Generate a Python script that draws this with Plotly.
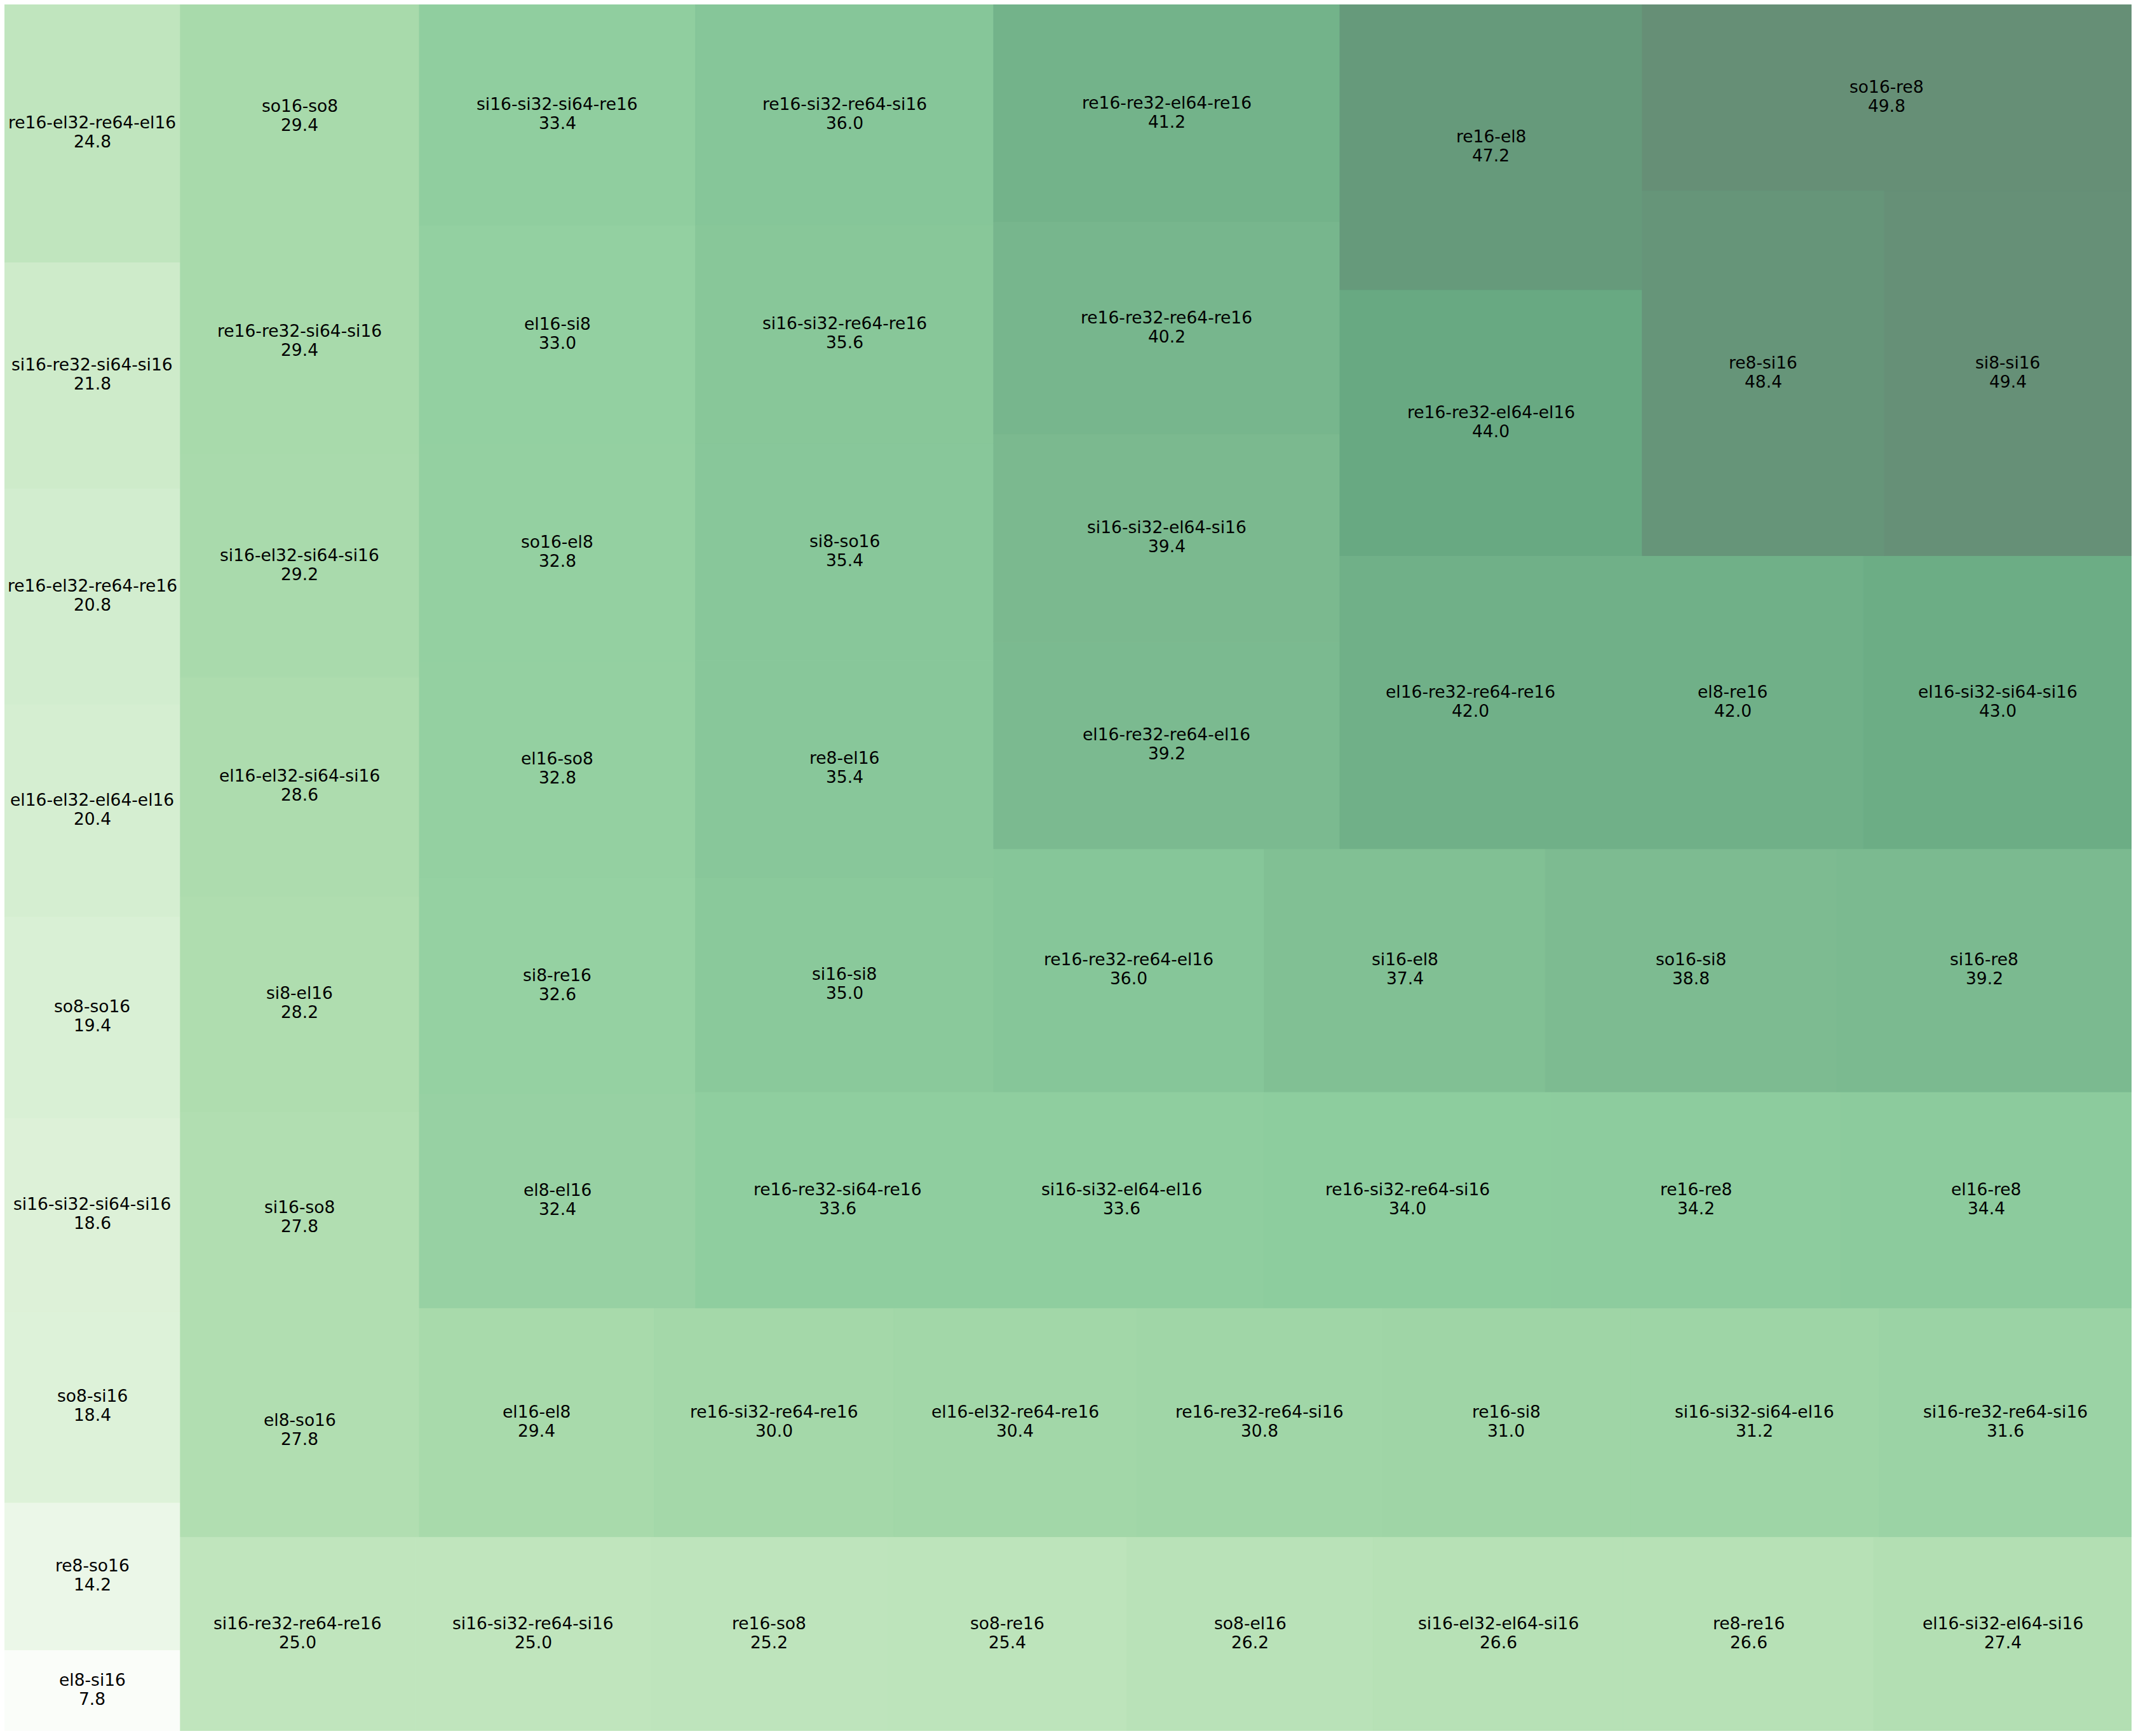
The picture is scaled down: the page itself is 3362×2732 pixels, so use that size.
import plotly.graph_objects as go

# ---- data (ascending order, as laid out) ----
labels = [
    "el8-si16", "re8-so16", "so8-si16", "si16-si32-si64-si16", "so8-so16",
    "el16-el32-el64-el16", "re16-el32-re64-re16", "si16-re32-si64-si16", "re16-el32-re64-el16",
    "si16-re32-re64-re16", "si16-si32-re64-si16", "re16-so8", "so8-re16", "so8-el16",
    "si16-el32-el64-si16", "re8-re16", "el16-si32-el64-si16",
    "el8-so16", "si16-so8", "si8-el16", "el16-el32-si64-si16", "si16-el32-si64-si16",
    "re16-re32-si64-si16", "so16-so8",
    "el16-el8", "re16-si32-re64-re16", "el16-el32-re64-re16", "re16-re32-re64-si16",
    "re16-si8", "si16-si32-si64-el16", "si16-re32-re64-si16",
    "el8-el16", "si8-re16", "el16-so8", "so16-el8", "el16-si8", "si16-si32-si64-re16",
    "re16-re32-si64-re16", "si16-si32-el64-el16", "re16-si32-re64-si16", "re16-re8", "el16-re8",
    "si16-si8", "re8-el16", "si8-so16", "si16-si32-re64-re16", "re16-si32-re64-si16",
    "re16-re32-re64-el16", "si16-el8", "so16-si8", "si16-re8",
    "el16-re32-re64-el16", "si16-si32-el64-si16", "re16-re32-re64-re16", "re16-re32-el64-re16",
    "el16-re32-re64-re16", "el8-re16", "el16-si32-si64-si16",
    "re16-re32-el64-el16", "re16-el8",
    "re8-si16", "si8-si16",
    "so16-re8",
]
values = [
    7.8, 14.2, 18.4, 18.6, 19.4, 20.4, 20.8, 21.8, 24.8,
    25.0, 25.0, 25.2, 25.4, 26.2, 26.6, 26.6, 27.4,
    27.8, 27.8, 28.2, 28.6, 29.2, 29.4, 29.4,
    29.4, 30.0, 30.4, 30.8, 31.0, 31.2, 31.6,
    32.4, 32.6, 32.8, 32.8, 33.0, 33.4,
    33.6, 33.6, 34.0, 34.2, 34.4,
    35.0, 35.4, 35.4, 35.6, 36.0,
    36.0, 37.4, 38.8, 39.2,
    39.2, 39.4, 40.2, 41.2,
    42.0, 42.0, 43.0,
    44.0, 47.2,
    48.4, 49.4,
    49.8,
]

# ---- squarify layout (same algorithm as the python "squarify" package) ----
def normalize_sizes(sizes, dx, dy):
    total = sum(sizes)
    return [s * dx * dy / total for s in sizes]

def layoutrow(sizes, x, y, dx, dy):
    width = sum(sizes) / dy
    rects = []
    for s in sizes:
        rects.append((x, y, width, s / width))
        y += s / width
    return rects

def layoutcol(sizes, x, y, dx, dy):
    height = sum(sizes) / dx
    rects = []
    for s in sizes:
        rects.append((x, y, s / height, height))
        x += s / height
    return rects

def layout(sizes, x, y, dx, dy):
    return layoutrow(sizes, x, y, dx, dy) if dx >= dy else layoutcol(sizes, x, y, dx, dy)

def leftover(sizes, x, y, dx, dy):
    if dx >= dy:
        w = sum(sizes) / dy
        return (x + w, y, dx - w, dy)
    h = sum(sizes) / dx
    return (x, y + h, dx, dy - h)

def worst_ratio(sizes, x, y, dx, dy):
    return max(max(r[2] / r[3], r[3] / r[2]) for r in layout(sizes, x, y, dx, dy))

def squarify(sizes, x, y, dx, dy):
    sizes = [float(s) for s in sizes]
    if not sizes:
        return []
    if len(sizes) == 1:
        return layout(sizes, x, y, dx, dy)
    i = 1
    while i < len(sizes) and worst_ratio(sizes[:i], x, y, dx, dy) >= worst_ratio(sizes[:i + 1], x, y, dx, dy):
        i += 1
    cur, rem = sizes[:i], sizes[i:]
    lx, ly, ldx, ldy = leftover(cur, x, y, dx, dy)
    return layout(cur, x, y, dx, dy) + squarify(rem, lx, ly, ldx, ldy)

NX, NY = 100.0, 100.0
rects = squarify(normalize_sizes(values, NX, NY), 0, 0, NX, NY)

# ---- Greens colormap (256-entry LUT) with alpha 0.6 over white ----
greens = [
    (0.96862745098039216, 0.9882352941176471, 0.96078431372549022),
    (0.89803921568627454, 0.96078431372549022, 0.8784313725490196),
    (0.7803921568627451, 0.9137254901960784, 0.75294117647058822),
    (0.63137254901960782, 0.85098039215686272, 0.60784313725490191),
    (0.45490196078431372, 0.7686274509803922, 0.46274509803921571),
    (0.25490196078431371, 0.6705882352941176, 0.36470588235294116),
    (0.13725490196078433, 0.54509803921568623, 0.27058823529411763),
    (0.0, 0.42745098039215684, 0.17254901960784313),
    (0.0, 0.26666666666666666, 0.10588235294117647),
]

def greens_at(t):
    n = len(greens) - 1
    p = t * n
    i = min(int(p), n - 1)
    f = p - i
    return tuple(greens[i][k] + (greens[i + 1][k] - greens[i][k]) * f for k in range(3))

def cmap(v, vmin, vmax, alpha=0.6):
    t = (v - vmin) / (vmax - vmin)
    idx = min(max(int(t * 256), 0), 255)
    c = greens_at(idx / 255.0)
    rgb = [round(255 * (alpha * ck + (1 - alpha))) for ck in c]
    return "rgb(%d,%d,%d)" % tuple(rgb)

vmin, vmax = min(values), max(values)

fig = go.Figure()
annotations = []
for (x, y, dx, dy), lab, val in zip(rects, labels, values):
    col = cmap(val, vmin, vmax)
    fig.add_trace(go.Scatter(
        x=[x, x + dx, x + dx, x, x], y=[y, y, y + dy, y + dy, y],
        mode="lines", fill="toself", fillcolor=col,
        line=dict(width=1, color=col), hoverinfo="skip", showlegend=False,
    ))
    cx, cy = x + dx / 2, y + dy / 2
    annotations.append(dict(x=cx, y=cy, xref="x", yref="y", text=lab, showarrow=False,
                            yshift=17, font=dict(family="DejaVu Sans", size=26.5, color="black")))
    annotations.append(dict(x=cx, y=cy, xref="x", yref="y", text="%.1f" % val, showarrow=False,
                            yshift=-13, font=dict(family="DejaVu Sans", size=26.5, color="black")))

fig.update_layout(
    width=3362, height=2732,
    margin=dict(l=7, r=7, t=7, b=8, pad=0),
    paper_bgcolor="white", plot_bgcolor="white",
    xaxis=dict(range=[0, NX], visible=False, showgrid=False, zeroline=False, fixedrange=True),
    yaxis=dict(range=[0, NY], visible=False, showgrid=False, zeroline=False, fixedrange=True),
    annotations=annotations,
    showlegend=False,
)

fig.write_html("out.html")
